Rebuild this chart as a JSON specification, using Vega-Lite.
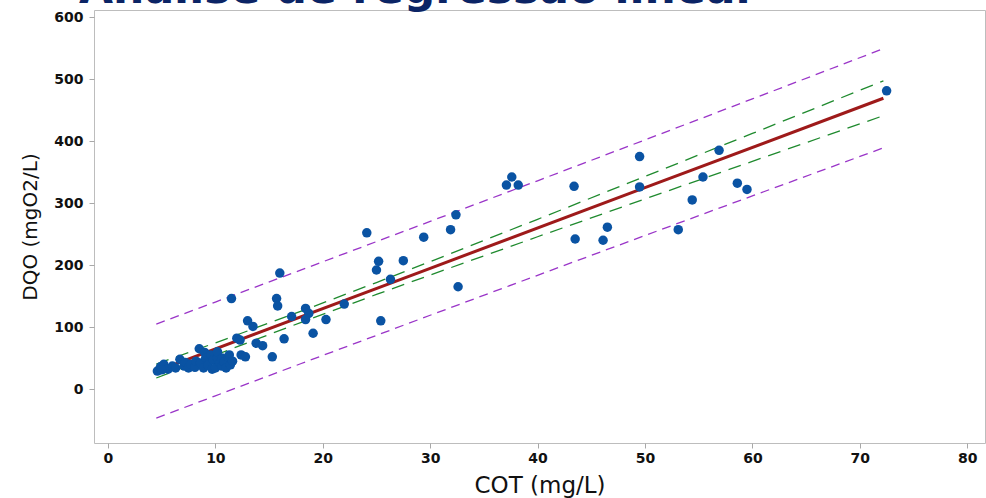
{
  "$schema": "https://vega.github.io/schema/vega-lite/v6.json",
  "width": 891,
  "height": 433,
  "autosize": {"type": "none"},
  "padding": {"left": 94, "top": 10, "right": 1, "bottom": 55},
  "background": "white",
  "title": {
    "text": "Análise de regressão linear",
    "anchor": "start",
    "frame": "group",
    "orient": "top",
    "offset": 0,
    "dx": -15,
    "dy": 37,
    "baseline": "alphabetic",
    "font": "DejaVu Sans",
    "fontWeight": "bold",
    "fontSize": 44,
    "color": "#0b2465"
  },
  "config": {
    "view": {"stroke": "#bdbdbd", "strokeWidth": 1},
    "axis": {
      "grid": false,
      "domain": false,
      "tickColor": "#a8a8a8",
      "tickSize": 5,
      "labelFont": "DejaVu Sans",
      "labelFontWeight": "bold",
      "labelFontSize": 14,
      "labelColor": "#111111",
      "titleFont": "DejaVu Sans",
      "titleFontWeight": "normal",
      "titleColor": "#111111"
    }
  },
  "datasets": {
    "points": [
      {"cot": 4.6, "dqo": 29}, {"cot": 4.9, "dqo": 36}, {"cot": 5.2, "dqo": 40}, {"cot": 5.6, "dqo": 32},
      {"cot": 5.0, "dqo": 31}, {"cot": 6.0, "dqo": 37}, {"cot": 6.3, "dqo": 34}, {"cot": 6.7, "dqo": 48},
      {"cot": 7.1, "dqo": 37}, {"cot": 7.2, "dqo": 43}, {"cot": 7.5, "dqo": 34}, {"cot": 7.7, "dqo": 40},
      {"cot": 8.1, "dqo": 35}, {"cot": 8.2, "dqo": 45}, {"cot": 8.5, "dqo": 65}, {"cot": 8.6, "dqo": 42},
      {"cot": 8.9, "dqo": 34}, {"cot": 9.0, "dqo": 59}, {"cot": 9.1, "dqo": 50}, {"cot": 9.3, "dqo": 39},
      {"cot": 9.6, "dqo": 55}, {"cot": 9.7, "dqo": 32}, {"cot": 9.8, "dqo": 47}, {"cot": 10.0, "dqo": 34},
      {"cot": 10.2, "dqo": 50}, {"cot": 10.2, "dqo": 60}, {"cot": 10.4, "dqo": 42}, {"cot": 10.6, "dqo": 37},
      {"cot": 10.6, "dqo": 50}, {"cot": 10.8, "dqo": 44}, {"cot": 11.0, "dqo": 34}, {"cot": 11.2, "dqo": 52},
      {"cot": 11.3, "dqo": 55}, {"cot": 11.4, "dqo": 39}, {"cot": 11.6, "dqo": 45}, {"cot": 12.0, "dqo": 82},
      {"cot": 12.3, "dqo": 79}, {"cot": 12.4, "dqo": 55}, {"cot": 12.8, "dqo": 52}, {"cot": 13.0, "dqo": 110},
      {"cot": 13.5, "dqo": 101}, {"cot": 13.8, "dqo": 74}, {"cot": 14.4, "dqo": 70}, {"cot": 15.3, "dqo": 52},
      {"cot": 11.5, "dqo": 146},
      {"cot": 15.7, "dqo": 146}, {"cot": 15.8, "dqo": 134}, {"cot": 16.0, "dqo": 187}, {"cot": 16.4, "dqo": 81},
      {"cot": 17.1, "dqo": 117}, {"cot": 18.4, "dqo": 130}, {"cot": 18.7, "dqo": 122}, {"cot": 18.4, "dqo": 112},
      {"cot": 19.1, "dqo": 90}, {"cot": 20.3, "dqo": 112}, {"cot": 22.0, "dqo": 137}, {"cot": 24.1, "dqo": 252},
      {"cot": 25.0, "dqo": 192}, {"cot": 25.2, "dqo": 206}, {"cot": 25.4, "dqo": 110}, {"cot": 26.3, "dqo": 177},
      {"cot": 27.5, "dqo": 207}, {"cot": 29.4, "dqo": 245}, {"cot": 31.9, "dqo": 257}, {"cot": 32.4, "dqo": 281},
      {"cot": 32.6, "dqo": 165}, {"cot": 37.1, "dqo": 329}, {"cot": 37.6, "dqo": 342}, {"cot": 38.2, "dqo": 329},
      {"cot": 43.4, "dqo": 327}, {"cot": 43.5, "dqo": 242}, {"cot": 46.1, "dqo": 240}, {"cot": 46.5, "dqo": 261},
      {"cot": 49.5, "dqo": 326}, {"cot": 49.5, "dqo": 375}, {"cot": 53.1, "dqo": 257}, {"cot": 54.4, "dqo": 305},
      {"cot": 55.4, "dqo": 342}, {"cot": 56.9, "dqo": 385}, {"cot": 58.6, "dqo": 332}, {"cot": 59.5, "dqo": 322},
      {"cot": 72.5, "dqo": 481}
    ],
    "fit": [
      {"cot": 4.5, "dqo": 29.0}, {"cot": 30, "dqo": 194.7}, {"cot": 50, "dqo": 324.7}, {"cot": 72.2, "dqo": 469.0}
    ],
    "ci": [
      {"side": "upper", "cot": 4.5, "dqo": 40.2}, {"side": "upper", "cot": 10, "dqo": 74.5},
      {"side": "upper", "cot": 18, "dqo": 125.7}, {"side": "upper", "cot": 25, "dqo": 171.8},
      {"side": "upper", "cot": 30, "dqo": 205.5}, {"side": "upper", "cot": 40, "dqo": 273.8},
      {"side": "upper", "cot": 50, "dqo": 342.8}, {"side": "upper", "cot": 60, "dqo": 412.2},
      {"side": "upper", "cot": 72.2, "dqo": 497.1},
      {"side": "lower", "cot": 4.5, "dqo": 17.8}, {"side": "lower", "cot": 10, "dqo": 54.9},
      {"side": "lower", "cot": 18, "dqo": 107.7}, {"side": "lower", "cot": 25, "dqo": 152.6},
      {"side": "lower", "cot": 30, "dqo": 183.9}, {"side": "lower", "cot": 40, "dqo": 245.6},
      {"side": "lower", "cot": 50, "dqo": 306.6}, {"side": "lower", "cot": 60, "dqo": 367.2},
      {"side": "lower", "cot": 72.2, "dqo": 440.9}
    ],
    "pi": [
      {"side": "upper", "cot": 4.5, "dqo": 104.8}, {"side": "upper", "cot": 10, "dqo": 140.3},
      {"side": "upper", "cot": 18, "dqo": 192.2}, {"side": "upper", "cot": 25, "dqo": 237.8},
      {"side": "upper", "cot": 30, "dqo": 270.4}, {"side": "upper", "cot": 40, "dqo": 335.9},
      {"side": "upper", "cot": 50, "dqo": 401.8}, {"side": "upper", "cot": 60, "dqo": 467.9},
      {"side": "upper", "cot": 72.2, "dqo": 549.0},
      {"side": "lower", "cot": 4.5, "dqo": -46.8}, {"side": "lower", "cot": 10, "dqo": -10.9},
      {"side": "lower", "cot": 18, "dqo": 41.2}, {"side": "lower", "cot": 25, "dqo": 86.6},
      {"side": "lower", "cot": 30, "dqo": 119.0}, {"side": "lower", "cot": 40, "dqo": 183.5},
      {"side": "lower", "cot": 50, "dqo": 247.6}, {"side": "lower", "cot": 60, "dqo": 311.5},
      {"side": "lower", "cot": 72.2, "dqo": 389.0}
    ]
  },
  "encoding": {
    "x": {
      "field": "cot", "type": "quantitative", "title": "COT (mg/L)",
      "scale": {"domain": [-1.3, 81.66], "nice": false, "zero": false},
      "axis": {"values": [0, 10, 20, 30, 40, 50, 60, 70, 80], "labelPadding": 3, "titlePadding": 9, "titleFontSize": 23}
    },
    "y": {
      "field": "dqo", "type": "quantitative", "title": "DQO (mgO2/L)",
      "scale": {"domain": [-87, 611.3], "nice": false, "zero": false},
      "axis": {"values": [0, 100, 200, 300, 400, 500, 600], "labelPadding": 6, "titlePadding": 13, "titleFontSize": 20}
    }
  },
  "layer": [
    {
      "data": {"name": "pi"},
      "mark": {"type": "line", "color": "#9a35c8", "strokeWidth": 1.3, "strokeDash": [9, 6]},
      "encoding": {"detail": {"field": "side"}}
    },
    {
      "data": {"name": "ci"},
      "mark": {"type": "line", "color": "#1f8a2e", "strokeWidth": 1.3, "strokeDash": [13, 8]},
      "encoding": {"detail": {"field": "side"}}
    },
    {
      "data": {"name": "fit"},
      "mark": {"type": "line", "color": "#9e1a1a", "strokeWidth": 3},
      "encoding": {}
    },
    {
      "data": {"name": "points"},
      "mark": {"type": "point", "filled": true, "shape": "circle", "size": 90, "color": "#0a53a3", "opacity": 1},
      "encoding": {}
    }
  ]
}
